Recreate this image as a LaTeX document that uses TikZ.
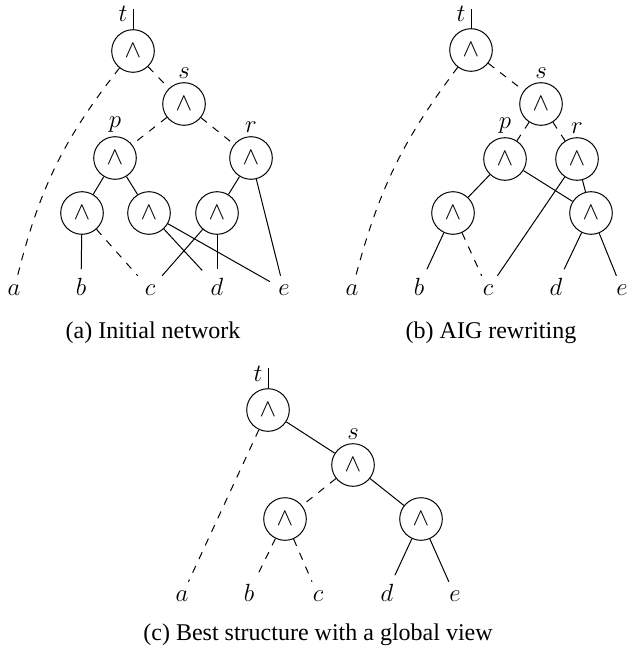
\documentclass[tikz,border=0pt]{standalone}
\usepackage{fontspec}
\setmainfont{Liberation Serif}
\begin{document}
\begin{tikzpicture}[x=1pt,y=-1pt,
  line width=1pt,
  font=\fontsize{24}{28}\selectfont,
  gate/.style={circle,draw,minimum size=42.6pt,inner sep=0pt,label distance=0pt},
  leaf/.style={anchor=base,inner sep=8pt},
  neg/.style={dash pattern=on 7.5pt off 7.5pt},
  captext/.style={anchor=base,inner sep=0pt},
  outlbl/.style={anchor=base east,inner sep=0pt}]
\useasboundingbox (0,0) rectangle (630,650);

% ---------- (a) initial network ----------
\node[gate] (at) at (133,51) {$\wedge$};
\node[gate,label=above:$s$] (as) at (184,104) {$\wedge$};
\node[gate,label=above:$p$] (ap) at (115,158) {$\wedge$};
\node[gate,label=above:$r$] (ar) at (251,158) {$\wedge$};
\node[gate] (an1) at (82,213) {$\wedge$};
\node[gate] (an2) at (149,213) {$\wedge$};
\node[gate] (an3) at (217,213) {$\wedge$};
\node[leaf] (aa) at (14,295) {$a$};
\node[leaf] (ab) at (81,295) {$b$};
\node[leaf] (ac) at (150,295) {$c$};
\node[leaf] (ad) at (217,295) {$d$};
\node[leaf] (ae) at (284,295) {$e$};
\coordinate (ato) at (133,9);
\node[outlbl] (atl) at (128,22) {$t$};
\draw (at) -- (ato);
\draw[neg] (at) to[bend right=12] (aa);
\draw[neg] (at) -- (as);
\draw[neg] (as) -- (ap);
\draw[neg] (as) -- (ar);
\draw (ap) -- (an1);
\draw (ap) -- (an2);
\draw (ar) -- (an3);
\draw (ar) -- (ae);
\draw (an1) -- (ab);
\draw[neg] (an1) -- (ac);
\draw (an2) -- (ad);
\draw (an2) -- (ae);
\draw (an3) -- (ac);
\draw (an3) -- (ad);
\node[captext] (acap) at (153,338) {(a) Initial network};

% ---------- (b) AIG rewriting ----------
\node[gate] (bt) at (471,50) {$\wedge$};
\node[gate,label=above:$s$] (bs) at (541,104) {$\wedge$};
\node[gate,label=above:$p$] (bp) at (505,159) {$\wedge$};
\node[gate,label=above:$r$] (br) at (577,159) {$\wedge$};
\node[gate] (bn1) at (453,213) {$\wedge$};
\node[gate] (bn2) at (591,213) {$\wedge$};
\node[leaf] (ba) at (352,295) {$a$};
\node[leaf] (bb) at (419,295) {$b$};
\node[leaf] (bc) at (488,295) {$c$};
\node[leaf] (bd) at (556,295) {$d$};
\node[leaf] (be) at (622,295) {$e$};
\coordinate (bto) at (471,9);
\node[outlbl] (btl) at (466,22) {$t$};
\draw (bt) -- (bto);
\draw[neg] (bt) to[bend right=11] (ba);
\draw[neg] (bt) -- (bs);
\draw[neg] (bs) -- (bp);
\draw[neg] (bs) -- (br);
\draw (bp) -- (bn1);
\draw (bp) -- (bn2);
\draw (br) -- (bn2);
\draw (br) -- (bc);
\draw (bn1) -- (bb);
\draw[neg] (bn1) -- (bc);
\draw (bn2) -- (bd);
\draw (bn2) -- (be);
\node[captext] (bcap) at (491,338) {(b) AIG rewriting};

% ---------- (c) best structure ----------
\node[gate] (ct) at (268,410) {$\wedge$};
\node[gate,label=above:$s$] (cs) at (353,465) {$\wedge$};
\node[gate] (cn1) at (285,519) {$\wedge$};
\node[gate] (cn2) at (421,519) {$\wedge$};
\node[leaf] (ca) at (182,601) {$a$};
\node[leaf] (cb) at (249,601) {$b$};
\node[leaf] (cc) at (318,601) {$c$};
\node[leaf] (cd) at (387,601) {$d$};
\node[leaf] (ce) at (455,601) {$e$};
\coordinate (cto) at (268,368);
\node[outlbl] (ctl) at (263,381) {$t$};
\draw (ct) -- (cto);
\draw[neg] (ct) -- (ca);
\draw (ct) -- (cs);
\draw[neg] (cs) -- (cn1);
\draw (cs) -- (cn2);
\draw[neg] (cn1) -- (cb);
\draw[neg] (cn1) -- (cc);
\draw (cn2) -- (cd);
\draw (cn2) -- (ce);
\node[captext] (ccap) at (318,640) {(c) Best structure with a global view};
\end{tikzpicture}
\end{document}
